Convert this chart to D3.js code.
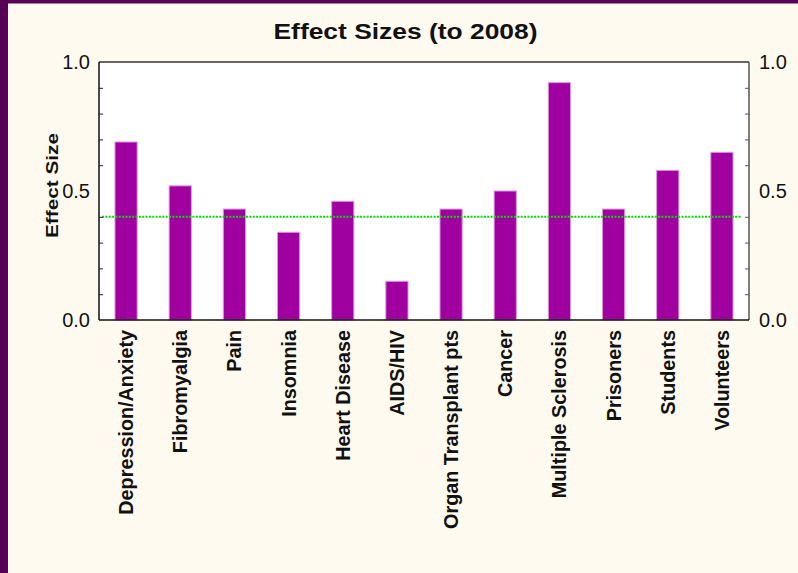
<!DOCTYPE html>
<html>
<head>
<meta charset="utf-8">
<script src="https://cdnjs.cloudflare.com/ajax/libs/d3/7.8.5/d3.min.js"></script>
<style>
  html, body { margin: 0; padding: 0; background: #fffaf0; }
  svg { display: block; }
</style>
</head>
<body>
<svg id="chart" width="798" height="573"></svg>
<script>
const categories = ["Depression/Anxiety", "Fibromyalgia", "Pain", "Insomnia", "Heart Disease", "AIDS/HIV",
  "Organ Transplant pts", "Cancer", "Multiple Sclerosis", "Prisoners", "Students", "Volunteers"];
const effectSizes = [0.69, 0.52, 0.43, 0.34, 0.46, 0.15, 0.43, 0.50, 0.92, 0.43, 0.58, 0.65];
const referenceLine = [0.4];
const yTickLabels = [0.0, 0.5, 1.0];
const yMinorTicks = [0.1, 0.2, 0.3, 0.4, 0.6, 0.7, 0.8, 0.9];
const titleText = "Effect Sizes (to 2008)";
const yLabelText = "Effect Size";

const W = 798, H = 573;
const m = { left: 99, right: 749, top: 62, bottom: 320 };
const svg = d3.select("#chart");
const FONT = "'Liberation Sans', Arial, Helvetica, sans-serif";

// background & purple frame
svg.append("rect").attr("x", 0).attr("y", 0).attr("width", W).attr("height", H).attr("fill", "#fffaf0");
svg.append("rect").attr("x", 0).attr("y", 0).attr("width", 8).attr("height", H).attr("fill", "#560056");
svg.append("rect").attr("x", 0).attr("y", 0).attr("width", W).attr("height", 3.5).attr("fill", "#560056");

const x = d3.scaleBand().domain(categories).range([m.left, m.right]).paddingInner(0.59).paddingOuter(0.295);
const y = d3.scaleLinear().domain([0, 1]).range([m.bottom, m.top]);

// plot area
svg.append("rect").attr("x", m.left).attr("y", m.top).attr("width", m.right - m.left)
  .attr("height", m.bottom - m.top).attr("fill", "#ffffff");

// bars
svg.append("g").selectAll("rect").data(categories).join("rect")
  .attr("x", d => x(d))
  .attr("y", (d, i) => y(effectSizes[i]))
  .attr("width", x.bandwidth())
  .attr("height", (d, i) => y(0) - y(effectSizes[i]))
  .attr("fill", "#a000a0")
  .attr("stroke", "#dc98dc")
  .attr("stroke-width", 1);

// reference dotted line
svg.append("g").selectAll("line").data(referenceLine).join("line")
  .attr("x1", m.left + 3).attr("x2", m.right - 7)
  .attr("y1", d => y(d)).attr("y2", d => y(d))
  .attr("stroke", "#00e000").attr("stroke-width", 2)
  .attr("stroke-dasharray", "2,1.35");

// axes
const leftAxis = d3.axisLeft(y).tickValues(yTickLabels).tickFormat(d3.format(".1f")).tickSize(0).tickPadding(9);
const rightAxis = d3.axisRight(y).tickValues(yTickLabels).tickFormat(d3.format(".1f")).tickSize(0).tickPadding(10);

function styleAxis(g) {
  g.select(".domain").remove();
  g.selectAll("text").attr("font-family", FONT)
    .attr("font-size", 20).attr("fill", "#111");
}
svg.append("g").attr("transform", `translate(${m.left},0)`).call(leftAxis).call(styleAxis);
svg.append("g").attr("transform", `translate(${m.right},0)`).call(rightAxis).call(styleAxis);

// minor inward ticks
const minorL = d3.axisRight(y).tickValues(yMinorTicks).tickSize(4).tickFormat("");
const minorR = d3.axisLeft(y).tickValues(yMinorTicks).tickSize(4).tickFormat("");
svg.append("g").attr("transform", `translate(${m.left},0)`).call(minorL)
  .call(g => { g.select(".domain").remove(); g.selectAll("line").attr("stroke", "#222"); });
svg.append("g").attr("transform", `translate(${m.right},0)`).call(minorR)
  .call(g => { g.select(".domain").remove(); g.selectAll("line").attr("stroke", "#555"); });

// frame
svg.append("line").attr("x1", m.left).attr("x2", m.right).attr("y1", m.top).attr("y2", m.top)
  .attr("stroke", "#333").attr("stroke-width", 1.5);
svg.append("line").attr("x1", m.right).attr("x2", m.right).attr("y1", m.top).attr("y2", m.bottom)
  .attr("stroke", "#555").attr("stroke-width", 1.5);
svg.append("line").attr("x1", m.left).attr("x2", m.left).attr("y1", m.top).attr("y2", m.bottom)
  .attr("stroke", "#111").attr("stroke-width", 1.5);
svg.append("line").attr("x1", m.left).attr("x2", m.right).attr("y1", m.bottom).attr("y2", m.bottom)
  .attr("stroke", "#111").attr("stroke-width", 1.5);

// x labels
const xAxis = d3.axisBottom(x).tickSize(0).tickPadding(0);
svg.append("g").attr("transform", `translate(0,${m.bottom})`).call(xAxis)
  .call(g => {
    g.select(".domain").remove();
    g.selectAll("text")
      .attr("font-family", FONT)
      .attr("font-weight", "bold").attr("font-size", 19.8).attr("fill", "#111")
      .attr("text-anchor", "end")
      .attr("dy", "0.35em")
      .attr("transform", "translate(0,10) rotate(-90)")
      .attr("x", 0).attr("y", 0);
  });

// title
svg.append("text").attr("x", 405.5).attr("y", 39).attr("text-anchor", "middle")
  .attr("font-family", FONT).attr("font-weight", "bold")
  .attr("font-size", 22.5).attr("fill", "#111")
  .attr("textLength", 264).attr("lengthAdjust", "spacingAndGlyphs")
  .text(titleText);

// y label
svg.append("text").attr("transform", "translate(58,185.5) rotate(-90)").attr("text-anchor", "middle")
  .attr("font-family", FONT).attr("font-weight", "bold")
  .attr("font-size", 17).attr("fill", "#111")
  .attr("textLength", 105).attr("lengthAdjust", "spacingAndGlyphs")
  .text(yLabelText);
</script>
</body>
</html>
